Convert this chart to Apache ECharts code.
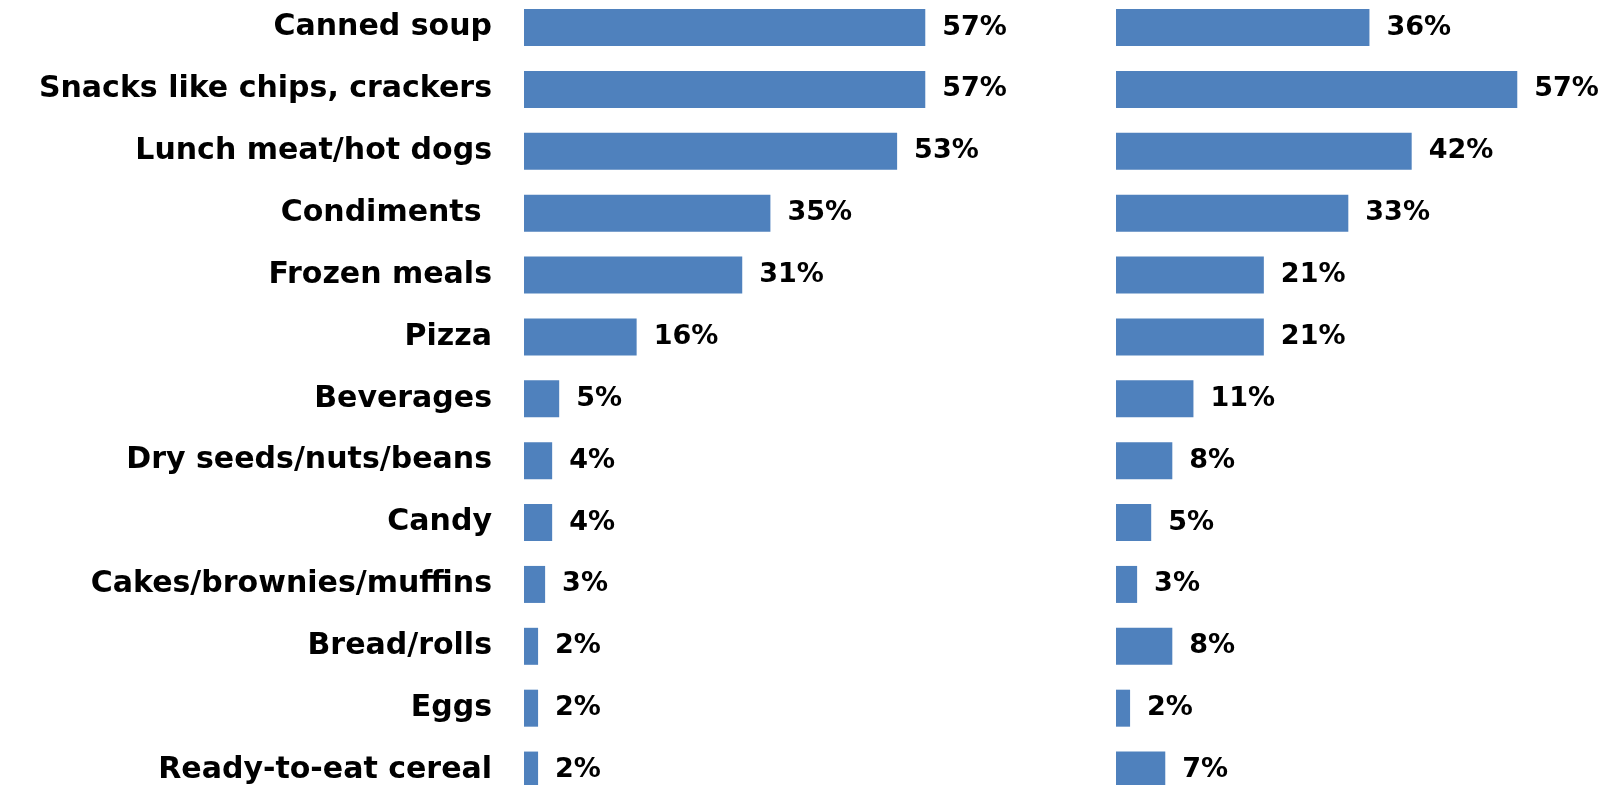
<!DOCTYPE html>
<html>
<head>
<meta charset="utf-8">
<script src="https://cdn.jsdelivr.net/npm/echarts@6/dist/echarts.min.js"></script>
<style>
  html, body { margin: 0; padding: 0; background: #ffffff; }
  #chart { width: 1608px; height: 785px; }
</style>
</head>
<body>
<div id="chart"></div>
<script>
// Food items, listed top to bottom
const categories = [
  'Canned soup',
  'Snacks like chips, crackers',
  'Lunch meat/hot dogs',
  'Condiments ',
  'Frozen meals',
  'Pizza',
  'Beverages',
  'Dry seeds/nuts/beans',
  'Candy',
  'Cakes/brownies/muffins',
  'Bread/rolls',
  'Eggs',
  'Ready-to-eat cereal'
];

// Share of respondents (%) for each panel
const leftValues  = [57, 57, 53, 35, 31, 16, 5, 4, 4, 3, 2, 2, 2];
const rightValues = [36, 57, 42, 33, 21, 21, 11, 8, 5, 3, 8, 2, 7];

const FONT = 'DejaVu Sans';
const BAR_COLOR = '#4F81BD';
const AXIS_MAX = 60;
const PANEL_WIDTH = 422.4;   // pixels spanned by 0..AXIS_MAX
const GRID_TOP = -3.4;
const GRID_HEIGHT = 804.4;

function valueLabel() {
  return {
    show: true,
    position: 'right',
    distance: 17,
    formatter: '{c}%',
    color: '#000000',
    fontFamily: FONT,
    fontWeight: 'bold',
    fontSize: 27
  };
}

function valueAxis(gridIndex) {
  return {
    type: 'value',
    gridIndex: gridIndex,
    min: 0,
    max: AXIS_MAX,
    show: false
  };
}

function categoryAxis(gridIndex, showLabels) {
  return {
    type: 'category',
    gridIndex: gridIndex,
    data: categories,
    inverse: true,
    axisLine: { show: false },
    axisTick: { show: false },
    splitLine: { show: false },
    axisLabel: {
      show: showLabels,
      margin: 32,
      color: '#000000',
      fontFamily: FONT,
      fontWeight: 'bold',
      fontSize: 30
    }
  };
}

const chart = echarts.init(document.getElementById('chart'), null, { renderer: 'canvas' });

chart.setOption({
  backgroundColor: '#ffffff',
  animation: false,
  grid: [
    { left: 524, top: GRID_TOP, width: PANEL_WIDTH, height: GRID_HEIGHT, outerBoundsMode: 'none' },
    { left: 1116, top: GRID_TOP, width: PANEL_WIDTH, height: GRID_HEIGHT, outerBoundsMode: 'none' }
  ],
  xAxis: [valueAxis(0), valueAxis(1)],
  yAxis: [categoryAxis(0, true), categoryAxis(1, false)],
  series: [
    {
      type: 'bar',
      xAxisIndex: 0,
      yAxisIndex: 0,
      data: leftValues,
      barWidth: 37,
      itemStyle: { color: BAR_COLOR },
      label: valueLabel()
    },
    {
      type: 'bar',
      xAxisIndex: 1,
      yAxisIndex: 1,
      data: rightValues,
      barWidth: 37,
      itemStyle: { color: BAR_COLOR },
      label: valueLabel()
    }
  ]
});
</script>
</body>
</html>
